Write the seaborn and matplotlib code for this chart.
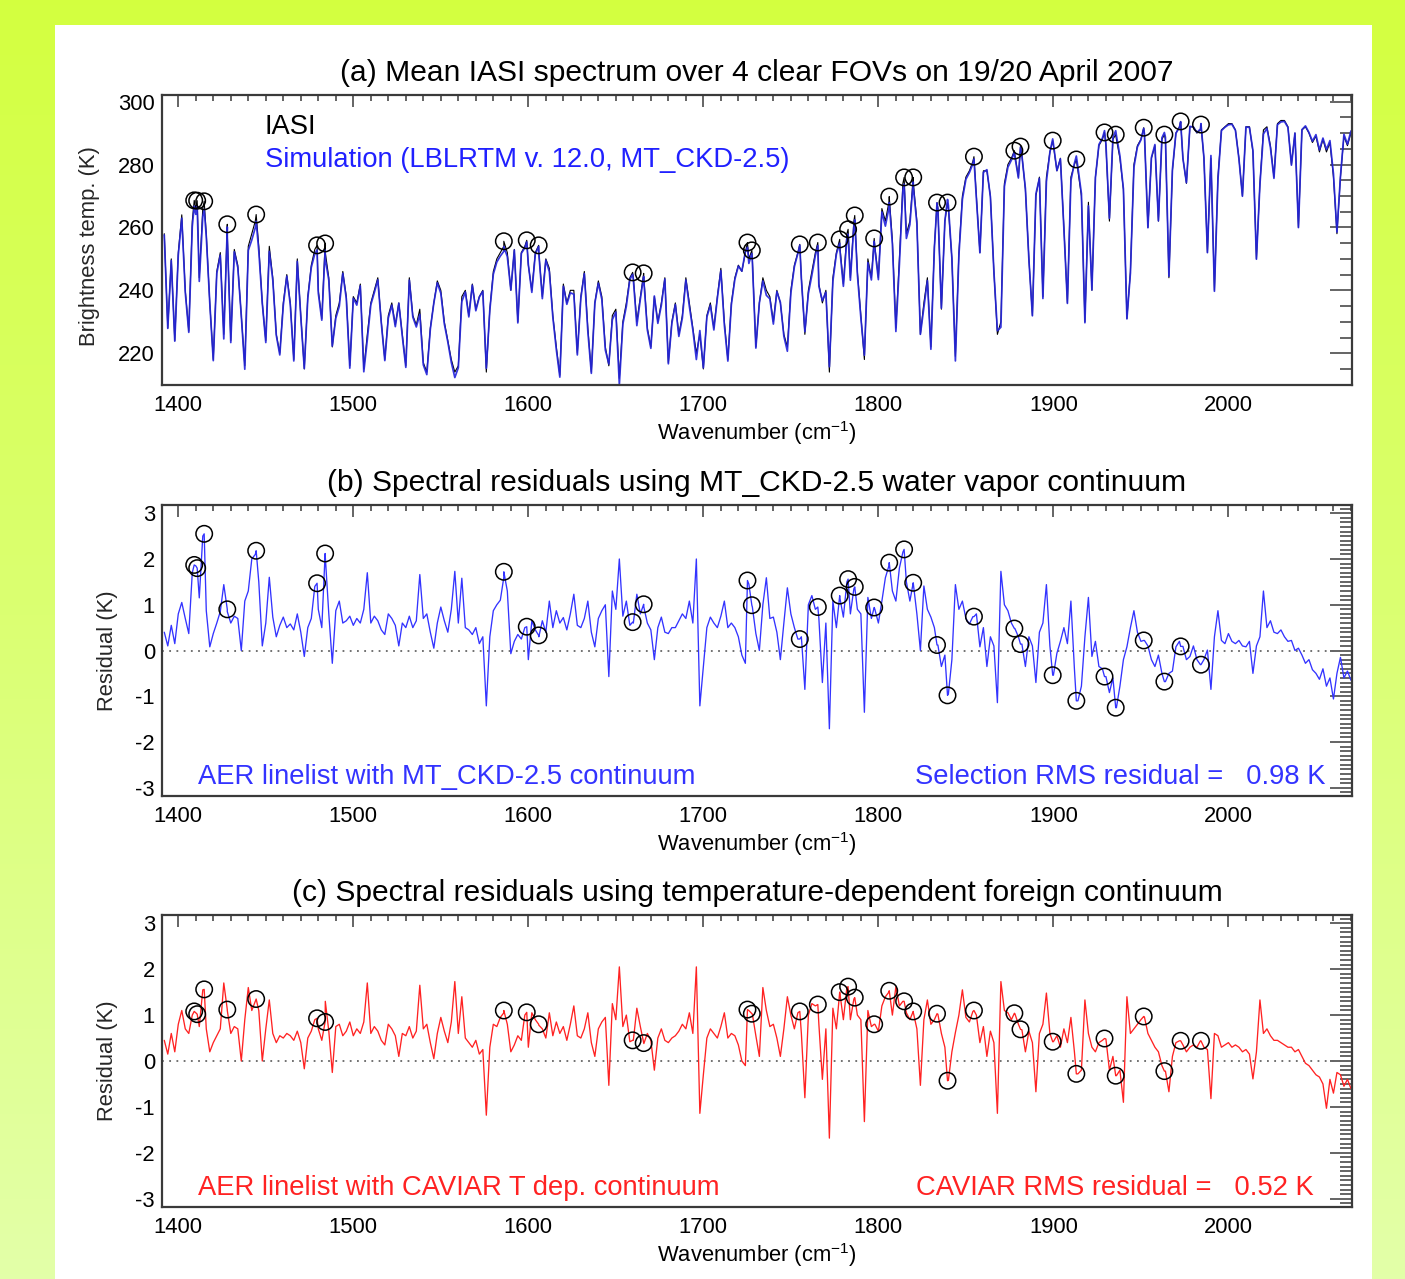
import numpy as np
import pandas as pd
import matplotlib
matplotlib.use("Agg")
import matplotlib.pyplot as plt
import seaborn as sns
from matplotlib.ticker import MultipleLocator
from matplotlib.patches import Rectangle

sns.set_theme(style="white")
plt.rcParams["font.family"] = ["Liberation Sans", "DejaVu Sans"]
plt.rcParams["mathtext.fontset"] = "custom"
plt.rcParams["mathtext.rm"] = "Liberation Sans"
plt.rcParams["mathtext.it"] = "Liberation Sans:italic"
plt.rcParams["axes.unicode_minus"] = False

# ---------------- data ----------------
wn_start, wn_step = 1392, 2          # channel grid (cm-1)

# (a) mean IASI brightness temperature (K), one row = 20 cm-1
tb_iasi = [
    258, 228, 250, 224, 252, 264, 240, 227, 262, 266,   # 1392
    244, 266, 258, 236, 218, 246, 252, 226, 258, 224,   # 1412
    253, 248, 232, 216, 254, 258, 262, 254, 236, 224,   # 1432
    254, 244, 226, 220, 236, 245, 236, 218, 250, 232,   # 1452
    215, 238, 248, 253, 240, 231, 252, 244, 222, 232,   # 1472
    236, 246, 238, 216, 238, 236, 242, 215, 226, 236,   # 1492
    240, 244, 230, 218, 232, 236, 229, 236, 226, 216,   # 1512
    244, 232, 229, 234, 217, 214, 228, 236, 243, 240,   # 1532
    230, 224, 218, 214, 216, 238, 240, 232, 242, 234,   # 1552
    238, 240, 214, 234, 246, 250, 252, 254, 252, 240,   # 1572
    253, 230, 252, 254, 248, 240, 252, 252, 238, 250,   # 1592
    247, 232, 222, 213, 242, 236, 240, 240, 220, 238,   # 1612
    246, 228, 214, 236, 243, 238, 222, 216, 232, 234,   # 1632
    212, 230, 236, 244, 244, 230, 238, 244, 228, 222,   # 1652
    238, 230, 236, 244, 217, 230, 236, 226, 232, 244,   # 1672
    236, 228, 220, 226, 215, 232, 236, 228, 238, 247,   # 1692
    230, 218, 236, 244, 248, 246, 252, 250, 250, 222,   # 1712
    236, 244, 240, 238, 230, 240, 236, 226, 222, 240,   # 1732
    248, 252, 244, 226, 240, 246, 252, 242, 236, 240,   # 1752
    214, 244, 252, 254, 242, 258, 244, 262, 246, 232,   # 1772
    218, 250, 244, 254, 244, 266, 262, 268, 256, 228,   # 1792
    250, 274, 258, 262, 274, 262, 226, 236, 244, 222,   # 1812
    254, 266, 234, 262, 266, 250, 219, 252, 270, 276,   # 1832
    278, 281, 270, 252, 278, 278, 270, 246, 226, 230,   # 1852
    274, 280, 282, 283, 276, 283, 272, 250, 232, 270,   # 1872
    276, 238, 276, 284, 286, 278, 282, 260, 236, 276,   # 1892
    280, 278, 270, 230, 268, 240, 276, 286, 288, 286,   # 1912
    262, 288, 288, 282, 272, 231, 246, 280, 286, 288,   # 1932
    290, 260, 282, 286, 262, 288, 288, 244, 278, 290,   # 1952
    292, 282, 274, 292, 292, 290, 291, 282, 252, 282,   # 1972
    240, 276, 291, 292, 293, 293, 291, 282, 270, 292,   # 1992
    292, 284, 250, 274, 291, 292, 286, 276, 293, 294,   # 2012
    294, 292, 280, 290, 260, 291, 292, 290, 287, 289,   # 2032
    284, 288, 284, 287, 276, 258, 276, 289, 286, 290,   # 2052
]

# (b) residual IASI - LBLRTM with MT_CKD-2.5 (K)
resid_ckd = [
    0.40, 0.10, 0.55, 0.15, 0.80, 1.05, 0.70, 0.37, 1.70, 1.85,   # 1392
    1.15, 2.50, 0.87, 0.08, 0.37, 0.60, 0.85, 1.44, 0.85, 0.60,   # 1412
    0.75, 0.70, 0.00, 1.08, 1.30, 2.00, 2.10, 1.50, 0.10, 0.60,   # 1432
    1.60, 0.73, 0.30, 0.55, 0.73, 0.50, 0.58, 0.45, 0.80, 0.40,   # 1452
    -0.13, 0.50, 0.70, 1.40, 0.90, 0.50, 2.05, 0.80, -0.28, 0.87, # 1472
    1.08, 0.60, 0.65, 0.75, 0.55, 0.70, 0.60, 0.90, 1.70, 0.60,   # 1492
    0.75, 0.65, 0.45, 0.35, 0.80, 0.70, 0.55, 0.10, 0.60, 0.50,   # 1512
    0.75, 0.50, 0.65, 1.66, 0.70, 0.80, 0.40, 0.05, 0.60, 0.95,   # 1532
    0.65, 0.40, 0.90, 1.73, 0.60, 1.58, 0.50, 0.45, 0.35, 0.50,   # 1552
    0.15, 0.30, -1.21, 0.30, 0.87, 1.00, 1.10, 1.60, 1.30, -0.07, # 1572
    0.20, 0.35, 0.25, 0.50, -0.20, 0.65, 0.45, 0.30, 0.65, 0.40,  # 1592
    1.08, 0.50, 0.87, 0.60, 0.72, 0.45, 0.80, 1.23, 0.55, 0.50,   # 1612
    0.70, 1.08, 0.40, 0.08, 0.70, 0.87, 1.00, -0.57, 1.30, 0.90,  # 1632
    2.00, 0.75, 1.08, 0.55, 0.60, 1.23, 0.80, 0.95, 0.60, 0.45,   # 1652
    -0.20, 0.50, 0.73, 0.40, 0.37, 0.50, 0.50, 0.65, 0.80, 0.70,  # 1672
    1.08, 0.60, 2.00, -1.21, -0.35, 0.50, 0.73, 0.60, 0.50, 0.75, # 1692
    1.08, 0.50, 0.60, 0.50, 0.30, -0.10, -0.28, 1.45, 0.95, 0.37, # 1712
    0.00, 1.00, 1.59, 0.70, 0.73, 0.40, -0.20, 0.60, 1.37, 0.80,  # 1732
    0.50, 0.25, 0.30, -0.85, 1.00, 1.20, 0.90, 0.70, -0.70, 0.60, # 1752
    -1.71, 1.08, 0.50, 1.15, 0.73, 1.50, 0.80, 1.35, 0.90, 0.80,  # 1772
    -1.35, 1.16, 0.70, 0.90, 0.60, 1.08, 1.59, 1.85, 1.30, 1.08,  # 1792
    1.80, 2.15, 1.50, 1.08, 1.45, 0.80, 0.00, 1.41, 0.90, 0.73,   # 1812
    0.50, 0.12, -0.35, -0.10, -0.95, -0.20, 1.44, 0.90, 1.08, 0.70,  # 1832
    0.58, 0.74, 0.80, 0.08, 0.50, -0.35, 0.30, 0.10, -1.14, 1.73,    # 1852
    1.00, 0.87, 0.60, 0.48, 0.30, 0.14, -0.35, 0.30, 0.10, -0.70,    # 1872
    0.40, 0.60, 1.44, 0.10, -0.54, -0.06, 0.20, 0.50, 0.15, 1.08,    # 1892
    -0.40, -1.10, -0.78, 0.30, 1.16, -0.13, 0.20, -0.35, -0.40, -0.57,  # 1912
    -0.92, -0.60, -1.25, -0.78, -0.20, 0.08, 0.50, 0.87, 0.40, 0.20,    # 1932
    0.22, 0.10, -0.20, -0.35, -0.10, -0.50, -0.68, -0.50, -0.45, 0.08,  # 1952
    0.20, 0.09, -0.20, -0.13, 0.10, -0.20, -0.31, -0.20, 0.01, -0.85,   # 1972
    0.30, 0.87, 0.22, 0.15, 0.37, 0.20, 0.15, 0.22, 0.10, 0.08,         # 1992
    0.20, -0.50, 0.10, 0.30, 1.30, 0.50, 0.65, 0.40, 0.37, 0.45,        # 2012
    0.30, 0.20, 0.22, 0.00, 0.05, -0.10, -0.28, -0.20, -0.42, -0.50,    # 2032
    -0.63, -0.40, -0.78, -0.60, -1.06, -0.50, -0.15, -0.60, -0.45, -0.65,  # 2052
]

# (c) residual with CAVIAR temperature-dependent foreign continuum (K)
resid_caviar = [
    0.45, 0.15, 0.60, 0.20, 0.80, 1.10, 0.70, 0.60, 1.00, 1.05,   # 1392
    0.75, 1.55, 0.70, 0.20, 0.40, 0.55, 0.70, 1.70, 1.10, 0.60,   # 1412
    0.75, 0.70, 0.00, 0.90, 1.60, 1.10, 1.30, 1.10, 0.00, 0.70,   # 1432
    1.33, 0.60, 0.40, 0.55, 0.50, 0.60, 0.55, 0.45, 0.65, 0.40,   # 1452
    -0.17, 0.50, 0.65, 0.90, 0.70, 0.45, 1.30, 0.65, -0.25, 0.75, # 1472
    0.80, 0.55, 0.65, 0.85, 0.55, 0.70, 0.60, 0.85, 1.70, 0.60,   # 1492
    0.75, 0.65, 0.45, 0.35, 0.80, 0.70, 0.55, 0.10, 0.60, 0.55,   # 1512
    0.75, 0.50, 0.65, 1.65, 0.70, 0.80, 0.40, 0.05, 0.60, 0.95,   # 1532
    0.65, 0.40, 0.85, 1.73, 0.60, 1.40, 0.50, 0.40, 0.30, 0.45,   # 1552
    0.15, 0.25, -1.18, 0.30, 0.80, 0.75, 0.95, 1.05, 0.80, 0.20,  # 1572
    0.35, 0.55, 0.45, 1.00, 0.30, 1.05, 0.90, 0.78, 0.70, 0.50,   # 1592
    1.05, 0.55, 0.85, 0.60, 0.75, 0.45, 0.80, 1.20, 0.55, 0.50,   # 1612
    0.70, 1.05, 0.40, 0.10, 0.70, 0.85, 0.95, -0.53, 1.25, 0.90,  # 1632
    2.05, 0.75, 1.00, 0.42, 0.45, 1.15, 0.75, 0.38, 0.60, 0.45,   # 1652
    -0.20, 0.50, 0.70, 0.45, 0.40, 0.50, 0.55, 0.65, 0.80, 0.70,  # 1672
    1.05, 0.60, 2.05, -1.14, -0.30, 0.50, 0.70, 0.60, 0.50, 0.75, # 1692
    1.05, 0.50, 0.60, 0.55, 0.35, 0.00, -0.10, 1.10, 1.02, 0.55,  # 1712
    0.10, 1.60, 1.10, 0.75, 0.80, 0.50, 0.10, 0.70, 1.40, 1.00,   # 1732
    0.70, 1.05, 0.60, -0.80, 1.00, 1.25, 1.20, 0.80, -0.40, 0.70, # 1752
    -1.68, 1.15, 0.70, 1.48, 0.90, 1.60, 0.90, 1.35, 1.00, 0.90,  # 1772
    -1.32, 1.10, 0.75, 0.80, 0.65, 1.20, 1.40, 1.50, 1.00, 1.62,  # 1792
    1.20, 1.30, 1.05, 0.90, 1.05, 0.70, -0.53, 0.90, 1.33, 0.80,  # 1812
    0.90, 1.02, 0.60, 0.30, -0.42, 0.20, 0.62, 1.00, 1.55, 0.95,  # 1832
    0.85, 1.08, 1.00, 0.40, 0.75, 0.10, 0.65, 0.40, -1.14, 1.73,  # 1852
    1.10, 1.05, 0.90, 1.03, 0.80, 0.68, 0.20, 0.65, 0.40, -0.67,  # 1872
    0.60, 0.80, 1.48, 0.60, 0.42, 0.55, 0.30, 0.70, 0.40, 0.95,   # 1892
    0.20, -0.28, -0.20, 1.33, 0.60, 0.30, 0.20, 0.40, 0.45, 0.48, # 1912
    -0.20, 0.10, -0.32, -0.20, -0.90, 1.40, 0.60, 0.70, 0.80, 0.90,  # 1932
    0.96, 0.60, 0.45, 0.30, 0.20, -0.10, -0.22, -0.67, 0.10, 0.40,   # 1952
    0.44, 0.35, 0.20, 0.30, 0.35, 0.30, 0.44, 0.30, 0.25, -0.82,     # 1972
    0.60, 0.55, 0.30, 0.35, 0.40, 0.30, 0.35, 0.30, 0.20, 0.25,      # 1992
    0.15, -0.39, 0.20, 1.33, 0.60, 0.70, 0.55, 0.45, 0.45, 0.40,     # 2012
    0.35, 0.30, 0.30, 0.20, 0.25, 0.10, -0.05, -0.10, -0.20, -0.30,  # 2032
    -0.35, -0.50, -1.03, -0.40, -0.70, -0.25, -0.30, -0.55, -0.40, -0.60,  # 2052
]

# selected (circled) channels
sel_wn = [1409.1, 1410.8, 1414.8, 1428.0, 1444.5, 1479.3, 1483.9, 1586.0, 1599.1,
          1605.9, 1659.6, 1665.9, 1725.2, 1727.7, 1755.1, 1765.4, 1777.9, 1782.7,
          1786.5, 1797.6, 1806.2, 1814.7, 1819.9, 1833.5, 1839.5, 1854.6, 1877.7,
          1881.2, 1899.6, 1913.1, 1929.2, 1935.6, 1951.6, 1963.4, 1972.7, 1984.3]
sel_tb = [268.6, 268.5, 268.3, 261.0, 264.1, 254.3, 254.9, 255.6, 255.9,
          254.3, 245.7, 245.4, 255.2, 252.7, 254.6, 255.2, 256.2, 259.4,
          263.8, 256.5, 269.8, 275.9, 275.9, 267.9, 267.9, 282.5, 284.4,
          285.7, 287.6, 281.6, 290.2, 289.5, 291.7, 289.5, 293.7, 292.7]
sel_ckd = [1.87, 1.80, 2.55, 0.90, 2.18, 1.47, 2.12, 1.72, 0.52,
           0.33, 0.62, 1.01, 1.53, 0.99, 0.25, 0.95, 1.20, 1.56,
           1.39, 0.94, 1.92, 2.21, 1.48, 0.12, -0.98, 0.74, 0.48,
           0.14, -0.54, -1.10, -0.57, -1.25, 0.22, -0.68, 0.09, -0.31]
sel_caviar = [1.08, 1.02, 1.56, 1.12, 1.35, 0.93, 0.85, 1.10, 1.06,
              0.80, 0.45, 0.39, 1.12, 1.03, 1.08, 1.23, 1.50, 1.62,
              1.38, 0.80, 1.53, 1.30, 1.08, 1.03, -0.43, 1.10, 1.04,
              0.69, 0.42, -0.28, 0.49, -0.32, 0.97, -0.22, 0.44, 0.44]

titles = ["(a) Mean IASI spectrum over 4 clear FOVs on 19/20 April 2007",
          "(b) Spectral residuals using MT_CKD-2.5 water vapor continuum",
          "(c) Spectral residuals using temperature-dependent foreign continuum"]

assert len(tb_iasi) == len(resid_ckd) == len(resid_caviar), (len(tb_iasi), len(resid_ckd), len(resid_caviar))
assert len(sel_wn) == len(sel_tb) == len(sel_ckd) == len(sel_caviar)

grid = wn_start + wn_step * np.arange(len(tb_iasi))
wn_all = np.concatenate([grid, sel_wn])
order = np.argsort(wn_all)
df = pd.DataFrame({
    "wn": wn_all[order],
    "iasi": np.concatenate([tb_iasi, sel_tb])[order],
    "ckd": np.concatenate([resid_ckd, sel_ckd])[order],
    "caviar": np.concatenate([resid_caviar, sel_caviar])[order],
})
df["sim"] = df["iasi"] - df["ckd"]
sel = pd.DataFrame({"wn": sel_wn, "iasi": sel_tb, "ckd": sel_ckd, "caviar": sel_caviar})

# ---------------- figure ----------------
W, H = 1405, 1279
fig = plt.figure(figsize=(W / 100, H / 100), dpi=100)

bg = fig.add_axes([0, 0, 1, 1], zorder=-10)
frac = np.linspace(0, 1, 256)[:, None, None]
c_top = np.array([0.83, 1.0, 0.25])
c_bot = np.array([0.89, 1.0, 0.66])
img = c_top * (1 - frac) + c_bot * frac
img = np.repeat(img, 2, axis=1)
bg.imshow(img, aspect="auto", extent=[0, 1, 0, 1], origin="upper")
bg.add_patch(Rectangle((55 / W, 0), (1372 - 55) / W, (H - 25) / H,
                       transform=bg.transAxes, color="white", lw=0))
bg.set_xlim(0, 1); bg.set_ylim(0, 1); bg.axis("off")


def fpos(x0, y0, x1, y1):
    return [x0 / W, 1 - y1 / H, (x1 - x0) / W, (y1 - y0) / H]


boxes = [(162, 95, 1352, 385), (162, 505, 1352, 796), (162, 915, 1352, 1207)]
axes = [fig.add_axes(fpos(*b)) for b in boxes]

TICK_FS = 15.8
ANN_FS = 19.7
CIRCLE_S = 140
for i, ax in enumerate(axes):
    ax.set_facecolor("white")
    ax.set_xlim(1390.7, 2070.6)
    ax.xaxis.set_major_locator(MultipleLocator(100))
    ax.xaxis.set_minor_locator(MultipleLocator(10))
    for s in ax.spines.values():
        s.set_linewidth(1.6)
        s.set_color("#3a3a3a")
    ax.tick_params(axis="both", which="both", direction="in", top=True, right=True,
                   colors="#3a3a3a", labelcolor="black", labelsize=TICK_FS, width=1.1)
    ax.tick_params(axis="x", which="major", length=8.6, pad=7)
    ax.tick_params(axis="x", which="minor", length=4.3)
    ax.tick_params(axis="y", which="major", length=16, pad=5)
    ax.tick_params(axis="y", which="minor", length=8.5)
    ax.set_xlabel(""); ax.set_ylabel("")
    x0, y0, x1, y1 = boxes[i]
    fig.text(757 / W, 1 - (y0 - 22) / H, titles[i], ha="center", va="center",
             fontsize=21.6, color="black")
    fig.text(757 / W, 1 - (y1 + 48) / H, "Wavenumber (cm$^{-1}$)", ha="center",
             va="center", fontsize=15.8, color="black")

# panel (a)
axA = axes[0]
sns.lineplot(data=df, x="wn", y="iasi", ax=axA, color="black", linewidth=0.8,
             estimator=None, sort=False, errorbar=None)
sns.lineplot(data=df, x="wn", y="sim", ax=axA, color="#2626dc", linewidth=1.25,
             estimator=None, sort=False, errorbar=None, alpha=0.92)
sns.scatterplot(data=sel, x="wn", y="iasi", ax=axA, s=CIRCLE_S, facecolors="none",
                edgecolor="black", linewidth=1.1, zorder=5)
axA.set_ylim(209.9, 302.1)
axA.yaxis.set_major_locator(MultipleLocator(20))
axA.yaxis.set_minor_locator(MultipleLocator(5))
axA.set_xlabel(""); axA.set_ylabel("")
axA.text(1449.5, 292, "IASI", color="black", fontsize=ANN_FS, ha="left", va="center")
axA.text(1449.5, 281.5, "Simulation (LBLRTM v. 12.0, MT_CKD-2.5)", color="#2020ff",
         fontsize=ANN_FS, ha="left", va="center")
fig.text(89 / W, 1 - 246 / H, "Brightness temp. (K)", rotation=90, ha="center",
         va="center", fontsize=15.8)

# panels (b), (c)
specs = [(axes[1], "ckd", "#3333ff", "AER linelist with MT_CKD-2.5 continuum",
          "Selection RMS residual =   0.98 K", 2055.3),
         (axes[2], "caviar", "#ff2222", "AER linelist with CAVIAR T dep. continuum",
          "CAVIAR RMS residual =   0.52 K", 2049.0)]
for k, (ax, col, colr, lab_l, lab_r, xr) in enumerate(specs):
    ax.axhline(0, color="#666666", linestyle=(0, (1, 3)), linewidth=1.3, zorder=1)
    sns.lineplot(data=df, x="wn", y=col, ax=ax, color=colr, linewidth=0.95,
                 estimator=None, sort=False, errorbar=None, zorder=2)
    sns.scatterplot(data=sel, x="wn", y=col, ax=ax, s=CIRCLE_S, facecolors="none",
                    edgecolor="black", linewidth=1.1, zorder=5)
    ax.set_ylim(-3.18, 3.18)
    ax.yaxis.set_major_locator(MultipleLocator(1))
    ax.yaxis.set_minor_locator(MultipleLocator(0.1))
    ax.set_xlabel(""); ax.set_ylabel("")
    ax.text(1411.3, -2.77, lab_l, color=colr, fontsize=ANN_FS, ha="left", va="center")
    ax.text(xr, -2.77, lab_r, color=colr, fontsize=ANN_FS, ha="right", va="center")
    y0, y1 = boxes[k + 1][1], boxes[k + 1][3]
    fig.text(108 / W, 1 - ((y0 + y1) / 2) / H, "Residual (K)", rotation=90,
             ha="center", va="center", fontsize=15.8)

fig.savefig("out.png", dpi=100)
